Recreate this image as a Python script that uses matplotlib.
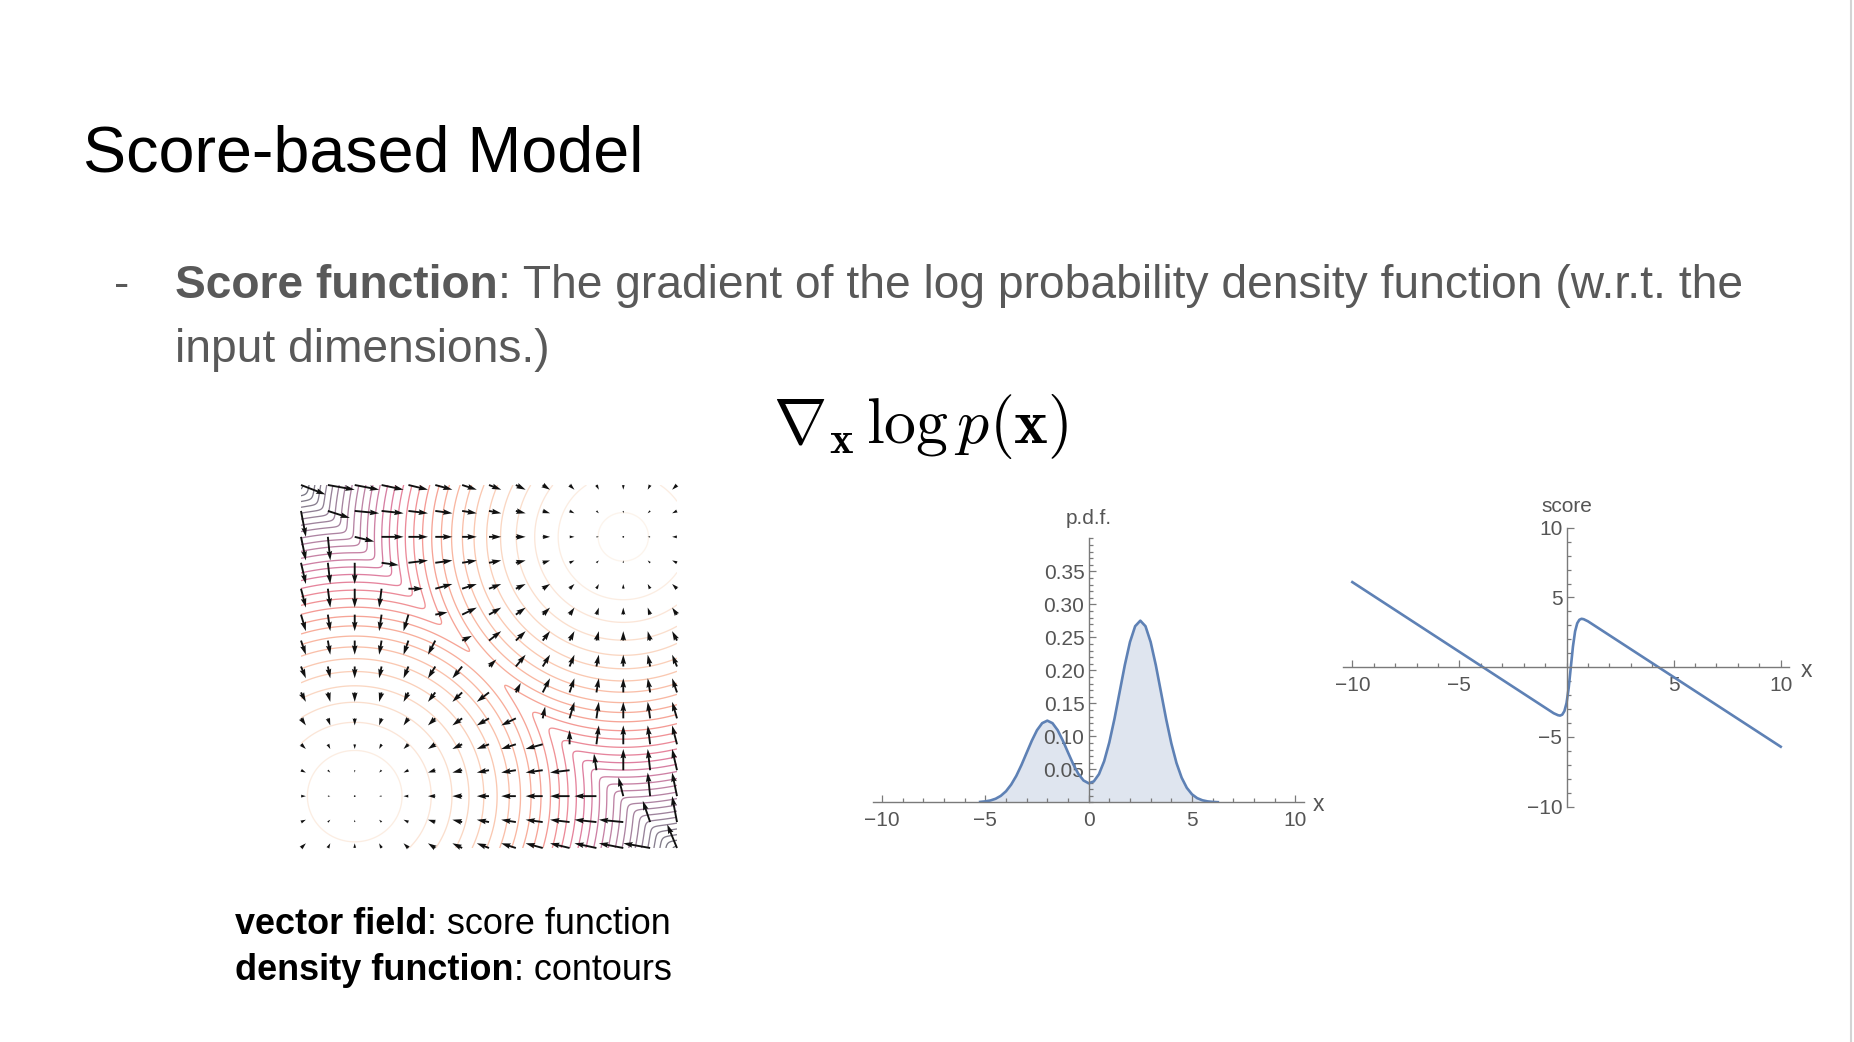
import numpy as np
import matplotlib
matplotlib.use("Agg")
import matplotlib.pyplot as plt
import seaborn as sns
from matplotlib.lines import Line2D
from matplotlib.ticker import MultipleLocator, FixedLocator

# ---- data ----
# 2D mixture of two gaussians (contours of log p, arrows = score)
field_grid = [-7, -6, -5, -4, -3, -2, -1, 0, 1, 2, 3, 4, 5, 6, 7]
mode_centers = [(-5.0, -5.0), (5.0, 5.0)]
mode_weights = [0.2, 0.8]
mode_sigma = 1.0
contour_step = 2.5

# 1D p.d.f. panel
pdf_x = [-5.25, -5, -4.75, -4.5, -4.25, -4, -3.75, -3.5, -3.25, -3, -2.75, -2.5,
         -2.25, -2, -1.75, -1.5, -1.25, -1, -0.75, -0.5, -0.25, 0, 0.25, 0.5,
         0.75, 1, 1.25, 1.5, 1.75, 2, 2.25, 2.5, 2.75, 3, 3.25, 3.5, 3.75, 4,
         4.25, 4.5, 4.75, 5, 5.25, 5.5, 5.75, 6, 6.25]
pdf_y = [0.0006, 0.0014, 0.0028, 0.0054, 0.0098, 0.0167, 0.0268, 0.0401, 0.0566,
         0.0750, 0.0933, 0.1092, 0.1199, 0.1237, 0.1199, 0.1093, 0.0935, 0.0756,
         0.0580, 0.0432, 0.0331, 0.0288, 0.0317, 0.0427, 0.0623, 0.0908, 0.1266,
         0.1673, 0.2079, 0.2429, 0.2668, 0.2752, 0.2668, 0.2429, 0.2078, 0.1670,
         0.1260, 0.0894, 0.0595, 0.0373, 0.0219, 0.0121, 0.0063, 0.0031, 0.0014,
         0.0006, 0.0002]
pdf_yticks = [0.05, 0.10, 0.15, 0.20, 0.25, 0.30, 0.35]

# 1D score panel
score_x = [-10, -4, -0.6, -0.4, -0.3, -0.2, -0.1, 0.0, 0.1, 0.2, 0.3, 0.4, 0.5,
           0.6, 0.7, 0.8, 1.0, 10]
score_y = [6.1, 0.1, -3.3, -3.44, -3.47, -3.4, -3.15, -2.57, -1.49, 0.0, 1.49,
           2.57, 3.15, 3.4, 3.47, 3.44, 3.29, -5.7]
score_yticks = [-10, -5, 5, 10]
xticks_1d = [-10, -5, 0, 5, 10]

FONT = "Liberation Sans"
TEXT_GRAY = "#595959"
AXIS_GRAY = "#7a7a7a"
LABEL_GRAY = "#555555"
CURVE = "#5e81b5"
TICK_FS = 15

W, H = 1854, 1042
fig = plt.figure(figsize=(W / 100, H / 100), dpi=100)
fig.patch.set_facecolor("white")


def fx(px):
    return px / W


def fy(py):
    return 1 - py / H


# ---- slide text ----
fig.text(fx(83), fy(172), "Score-based Model", fontsize=46.5, family=FONT,
         color="black", va="baseline")

renderer = fig.canvas.get_renderer()
BODY_FS = 33.2
fig.text(fx(114), fy(298), "-", fontsize=BODY_FS, family=FONT, color=TEXT_GRAY,
         va="baseline")
t_bold = fig.text(fx(175), fy(298), "Score function", fontsize=BODY_FS, family=FONT,
                  weight="bold", color=TEXT_GRAY, va="baseline")
bb = t_bold.get_window_extent(renderer=renderer)
fig.text(bb.x1 / W, fy(298),
         ": The gradient of the log probability density function (w.r.t. the",
         fontsize=BODY_FS, family=FONT, color=TEXT_GRAY, va="baseline")
fig.text(fx(175), fy(362), "input dimensions.)", fontsize=BODY_FS, family=FONT,
         color=TEXT_GRAY, va="baseline")

plt.rcParams["mathtext.fontset"] = "cm"
fig.text(fx(921), fy(427), r"$\nabla_{\mathbf{x}}\,\log p(\mathbf{x})$",
         fontsize=46, ha="center", va="center", color="black")

caption = [("vector field", ": score function", 934),
           ("density function", ": contours", 980)]
for bold, rest, base in caption:
    tb = fig.text(fx(235), fy(base), bold, fontsize=25.9, family=FONT,
                  weight="bold", color="black", va="baseline")
    b = tb.get_window_extent(renderer=renderer)
    fig.text(b.x1 / W, fy(base), rest, fontsize=25.9, family=FONT,
             color="black", va="baseline")

# slide border on the right
fig.add_artist(Line2D([fx(1851), fx(1851)], [0, 1], color="#d4d4d4", lw=1.5))

# ---- vector field + contours ----
ax1 = fig.add_axes([fx(301), fy(848), fx(677 - 301), (848 - 485) / H])
fine = np.linspace(field_grid[0], field_grid[-1], 401)
XX, YY = np.meshgrid(fine, fine)


def log_components(X, Y):
    comps = []
    for (mx, my), w in zip(mode_centers, mode_weights):
        d2 = (X - mx) ** 2 + (Y - my) ** 2
        comps.append(np.log(w) - np.log(2 * np.pi * mode_sigma ** 2)
                     - d2 / (2 * mode_sigma ** 2))
    return np.array(comps)


lc = log_components(XX, YY)
logp = np.logaddexp.reduce(lc, axis=0)
levels = np.arange(-75, 0, contour_step)
rocket = sns.color_palette("rocket", as_cmap=True)
ax1.contour(XX, YY, logp, levels=levels, cmap=rocket, linewidths=0.95,
            alpha=0.55)

GX, GY = np.meshgrid(field_grid, field_grid)
GX = GX.astype(float)
GY = GY.astype(float)
lcg = log_components(GX, GY)
post = np.exp(lcg - np.logaddexp.reduce(lcg, axis=0))
U = np.zeros_like(GX)
V = np.zeros_like(GY)
for k, (mx, my) in enumerate(mode_centers):
    U += post[k] * (mx - GX) / mode_sigma ** 2
    V += post[k] * (my - GY) / mode_sigma ** 2
ax1.quiver(GX, GY, U, V, angles="xy", scale_units="xy", scale=11,
           width=0.005, color="#111111", clip_on=False, zorder=3)
ax1.set_xlim(field_grid[0], field_grid[-1])
ax1.set_ylim(field_grid[0], field_grid[-1])
ax1.axis("off")


def style_axes(ax):
    ax.set_facecolor("none")
    ax.spines["left"].set_position(("data", 0))
    ax.spines["bottom"].set_position(("data", 0))
    ax.spines["right"].set_visible(False)
    ax.spines["top"].set_visible(False)
    for s in ("left", "bottom"):
        ax.spines[s].set_color(AXIS_GRAY)
        ax.spines[s].set_linewidth(1.0)
    ax.tick_params(which="both", direction="in", color=AXIS_GRAY,
                   labelcolor=LABEL_GRAY, labelsize=TICK_FS, width=0.9)
    ax.tick_params(which="major", length=5)
    ax.tick_params(which="minor", length=2.8)
    ax.tick_params(axis="x", pad=6)
    ax.tick_params(axis="y", pad=3)
    for lab in ax.get_xticklabels() + ax.get_yticklabels():
        lab.set_family(FONT)


# ---- p.d.f. panel ----
ax2 = fig.add_axes([fx(873.3), fy(802.3), fx(1304 - 873.3), (802.3 - 538.3) / H])
ax2.fill_between(pdf_x, pdf_y, 0, color="#dfe5ef", lw=0)
ax2.plot(pdf_x, pdf_y, color=CURVE, lw=1.9)
ax2.set_xlim(-10.42, 10.42)
ax2.set_ylim(0, 0.4)
ax2.xaxis.set_major_locator(FixedLocator(xticks_1d))
ax2.xaxis.set_minor_locator(MultipleLocator(1))
ax2.yaxis.set_major_locator(FixedLocator(pdf_yticks))
ax2.yaxis.set_minor_locator(MultipleLocator(0.01))
ax2.set_yticklabels([f"{v:.2f}" for v in pdf_yticks])
style_axes(ax2)
ax2.text(0, 0.43, "p.d.f.", ha="center", va="center", fontsize=TICK_FS,
         family=FONT, color=LABEL_GRAY, clip_on=False)
ax2.text(11.1, -0.003, "x", ha="center", va="center", fontsize=16.5,
         family=FONT, color=LABEL_GRAY, clip_on=False)

# ---- score panel ----
ax3 = fig.add_axes([fx(1342.7), fy(806.7), fx(1789.3 - 1342.7), (806.7 - 527.7) / H])
ax3.plot(score_x, score_y, color=CURVE, lw=1.9)
ax3.set_xlim(-10.45, 10.4)
ax3.set_ylim(-10, 10)
ax3.xaxis.set_major_locator(FixedLocator([v for v in xticks_1d if v != 0]))
ax3.xaxis.set_minor_locator(MultipleLocator(1))
ax3.yaxis.set_major_locator(FixedLocator(score_yticks))
ax3.yaxis.set_minor_locator(MultipleLocator(1))
style_axes(ax3)
ax3.text(0, 11.5, "score", ha="center", va="center", fontsize=TICK_FS,
         family=FONT, color=LABEL_GRAY, clip_on=False)
ax3.text(11.2, -0.25, "x", ha="center", va="center", fontsize=16.5,
         family=FONT, color=LABEL_GRAY, clip_on=False)

fig.savefig("out.png", dpi=100, facecolor="white")
plt.close(fig)
